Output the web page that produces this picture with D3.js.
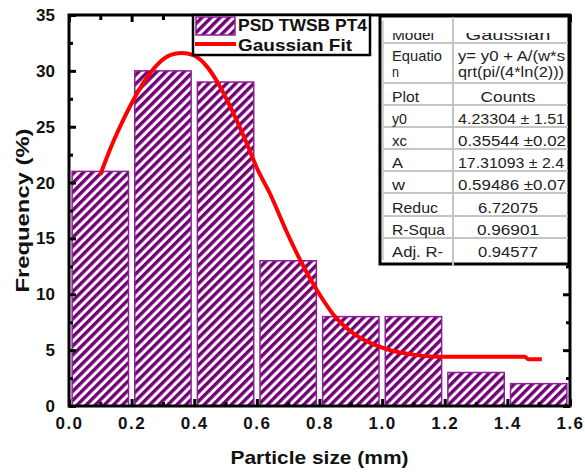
<!DOCTYPE html>
<html>
<head>
<meta charset="utf-8">
<script src="https://cdnjs.cloudflare.com/ajax/libs/d3/7.8.5/d3.min.js"></script>
<style>
  body { margin: 0; background: #fff; }
  svg { display: block; font-family: 'Liberation Sans', Arial, sans-serif; }
</style>
</head>
<body>
<svg id="chart" width="585" height="472"></svg>
<script>
// histogram bins (mm) and frequency (%)
const binStarts = [0, 0.2, 0.4, 0.6, 0.8, 1.0, 1.2, 1.4];
const frequencies = [21, 30, 29, 13, 8, 8, 3, 2];
const binWidth = 0.2;

// fitted curve
const fitX = [0.10, 0.13, 0.168, 0.20, 0.237, 0.28, 0.323, 0.36, 0.397, 0.44, 0.482, 0.525, 0.568, 0.60,
  0.642, 0.695, 0.743, 0.791, 0.844, 0.908, 0.983, 1.025, 1.10, 1.174, 1.281, 1.456, 1.467, 1.51];
const fitY = [20.7, 22.9, 25.3, 27.1, 28.9, 30.5, 31.4, 31.6, 31.4, 30.4, 28.6, 26.2, 23.5, 21.3,
  19.0, 15.6, 12.8, 10.4, 8.2, 6.5, 5.4, 5.0, 4.6, 4.41, 4.41, 4.41, 4.18, 4.18];

const xTicks = [0, 0.2, 0.4, 0.6, 0.8, 1.0, 1.2, 1.4, 1.6];
const xMinor = [0.1, 0.3, 0.5, 0.7, 0.9, 1.1, 1.3, 1.5];
const yTicks = [0, 5, 10, 15, 20, 25, 30, 35];
const yMinor = [2.5, 7.5, 12.5, 17.5, 22.5, 27.5, 32.5];

const legendLabels = ['PSD TWSB PT4', 'Gaussian Fit'];

// fit report table
const tableLabels = [['Model'], ['Equatio', 'n'], ['Plot'], ['y0'], ['xc'], ['A'], ['w'], ['Reduc'], ['R-Squa'], ['Adj. R-']];
const tableValues = [['Gaussian'], ['y= y0 + A/(w*s', 'qrt(pi/(4*ln(2)))'], ['Counts'], ['4.23304 \u00b1 1.51'],
  ['0.35544 \u00b10.02'], ['17.31093 \u00b1 2.4'], ['0.59486 \u00b10.07'], ['6.72075'], ['0.96901'], ['0.94577']];

// layout
const M = { left: 69, right: 570, top: 15, bottom: 406 };
const purple = '#800080';
const svg = d3.select('#chart');

const x = d3.scaleLinear().domain([0, 1.6]).range([M.left, M.right]);
const y = d3.scaleLinear().domain([0, 35]).range([M.bottom, M.top]);

const defs = svg.append('defs');
const pat = defs.append('pattern')
  .attr('id', 'hatch')
  .attr('patternUnits', 'userSpaceOnUse')
  .attr('width', 6.4).attr('height', 6.4)
  .attr('patternTransform', 'rotate(45)');
pat.append('rect').attr('width', 6.4).attr('height', 6.4).attr('fill', '#fff');
pat.append('rect').attr('width', 3.4).attr('height', 6.4).attr('fill', '#730078');

// bars
svg.append('g').selectAll('rect')
  .data(binStarts).join('rect')
  .attr('x', d => x(d + binWidth * 0.05))
  .attr('width', x(binWidth * 0.9) - x(0))
  .attr('y', (d, i) => y(frequencies[i]))
  .attr('height', (d, i) => y(0) - y(frequencies[i]))
  .attr('fill', 'url(#hatch)')
  .attr('stroke', '#8c2096')
  .attr('stroke-width', 1.5);

// fit line
const line = d3.line()
  .x(d => x(d[0]))
  .y(d => y(d[1]))
  .curve(d3.curveMonotoneX);
svg.append('path')
  .datum(fitX.map((v, i) => [v, fitY[i]]))
  .attr('d', line)
  .attr('fill', 'none')
  .attr('stroke', '#ff0000')
  .attr('stroke-width', 4);

// axes (ticks point inwards)
function styleAxis(g) {
  g.selectAll('.domain').remove();
  g.selectAll('.tick line').attr('stroke', '#000').attr('stroke-width', 3);
  g.selectAll('text')
    .attr('fill', '#111')
    .style('font-size', '17px')
    .style('font-weight', 'bold');
}

svg.append('g').attr('transform', `translate(0,${M.bottom})`)
  .call(d3.axisBottom(x).tickValues(xTicks).tickSize(-7).tickPadding(11).tickFormat(d3.format('.1f')))
  .call(styleAxis)
  .selectAll('text').style('letter-spacing', '1.5px');
svg.append('g').attr('transform', `translate(0,${M.bottom})`)
  .call(d3.axisBottom(x).tickValues(xMinor).tickSize(-4).tickFormat(''))
  .call(styleAxis);
svg.append('g').attr('transform', `translate(0,${M.top})`)
  .call(d3.axisTop(x).tickValues(xTicks).tickSize(-7).tickFormat(''))
  .call(styleAxis);
svg.append('g').attr('transform', `translate(0,${M.top})`)
  .call(d3.axisTop(x).tickValues(xMinor).tickSize(-5).tickFormat(''))
  .call(styleAxis);

svg.append('g').attr('transform', `translate(${M.left},0)`)
  .call(d3.axisLeft(y).tickValues(yTicks).tickSize(-7).tickPadding(14))
  .call(styleAxis);
svg.append('g').attr('transform', `translate(${M.left},0)`)
  .call(d3.axisLeft(y).tickValues(yMinor).tickSize(-4).tickFormat(''))
  .call(styleAxis);
svg.append('g').attr('transform', `translate(${M.right},0)`)
  .call(d3.axisRight(y).tickValues(yTicks).tickSize(-7).tickFormat(''))
  .call(styleAxis);
svg.append('g').attr('transform', `translate(${M.right},0)`)
  .call(d3.axisRight(y).tickValues(yMinor).tickSize(-4).tickFormat(''))
  .call(styleAxis);

// frame
svg.append('rect')
  .attr('x', M.left).attr('y', M.top)
  .attr('width', M.right - M.left).attr('height', M.bottom - M.top)
  .attr('fill', 'none').attr('stroke', '#000').attr('stroke-width', 3);

// axis titles
svg.append('text')
  .attr('x', (M.left + M.right) / 2).attr('y', 464)
  .attr('text-anchor', 'middle')
  .attr('textLength', 178).attr('lengthAdjust', 'spacingAndGlyphs')
  .style('font-size', '19px').style('font-weight', 'bold')
  .attr('fill', '#111')
  .text('Particle size (mm)');
svg.append('text')
  .attr('transform', `translate(29,${(M.top + M.bottom) / 2}) rotate(-90)`)
  .attr('text-anchor', 'middle')
  .attr('textLength', 164).attr('lengthAdjust', 'spacingAndGlyphs')
  .style('font-size', '19px').style('font-weight', 'bold')
  .attr('fill', '#111')
  .text('Frequency (%)');

// legend
const lg = svg.append('g');
lg.append('rect')
  .attr('x', 193).attr('y', 15).attr('width', 177).attr('height', 40)
  .attr('fill', '#fff').attr('stroke', '#000').attr('stroke-width', 2.5);
lg.append('rect')
  .attr('x', 196).attr('y', 17).attr('width', 39).attr('height', 18)
  .attr('fill', 'url(#hatch)').attr('stroke', '#8c2096').attr('stroke-width', 1.5);
lg.append('line')
  .attr('x1', 195).attr('x2', 236).attr('y1', 44).attr('y2', 44)
  .attr('stroke', '#ff0000').attr('stroke-width', 4);
lg.selectAll('text.lbl')
  .data(legendLabels).join('text')
  .attr('class', 'lbl')
  .attr('x', 238)
  .attr('y', (d, i) => 31 + i * 20)
  .attr('textLength', (d, i) => i === 0 ? 129 : 114)
  .attr('lengthAdjust', 'spacingAndGlyphs')
  .style('font-size', '17px').style('font-weight', 'bold')
  .attr('fill', '#111')
  .text(d => d);

// fit report table
const tb = svg.append('g');
const rowTops = [21, 43, 83, 105, 127, 149, 171, 193, 216, 238, 260];
const colX = [383, 453, 568];
const labelWidths = [[42], [50, 7], [27], [15], [15], [11], [13], [46], [53], [51]];
const valueWidths = [[85], [107, 106], [55], [107], [108], [106], [108], [60], [62], [60]];

tb.append('rect')
  .attr('x', 380).attr('y', 16).attr('width', 189).attr('height', 248)
  .attr('fill', '#fff').attr('stroke', '#000').attr('stroke-width', 3);

rowTops.slice(1, -1).forEach(t => {
  tb.append('line')
    .attr('x1', colX[0]).attr('x2', colX[2]).attr('y1', t).attr('y2', t)
    .attr('stroke', '#c4c4c4').attr('stroke-width', 2);
});
tb.append('line')
  .attr('x1', colX[1]).attr('x2', colX[1]).attr('y1', 17).attr('y2', 266)
  .attr('stroke', '#c4c4c4').attr('stroke-width', 2);
tb.append('line')
  .attr('x1', colX[0]).attr('x2', colX[0]).attr('y1', 21).attr('y2', 260)
  .attr('stroke', '#c4c4c4').attr('stroke-width', 1.5);

defs.append('clipPath').attr('id', 'topRow')
  .append('rect').attr('x', 380).attr('y', 33).attr('width', 190).attr('height', 240);

tableLabels.forEach((lines, r) => {
  const base = rowTops[r + 1] - 3 - (lines.length - 1) * 16;
  lines.forEach((s, k) => {
    tb.append('text')
      .attr('x', 392).attr('y', base + k * 16 - (lines.length > 1 ? 3 : 0))
      .attr('textLength', labelWidths[r][k]).attr('lengthAdjust', 'spacingAndGlyphs')
      .attr('clip-path', r === 0 ? 'url(#topRow)' : null)
      .style('font-size', '15px').attr('fill', '#222')
      .text(s);
  });
});
tableValues.forEach((lines, r) => {
  const base = rowTops[r + 1] - 3 - (lines.length - 1) * 16;
  const wide = /\u00b1|=|pi/.test(lines[0]);
  lines.forEach((s, k) => {
    tb.append('text')
      .attr('x', wide ? 458 : 508).attr('y', base + k * 16 - (lines.length > 1 ? 3 : 0))
      .attr('text-anchor', wide ? 'start' : 'middle')
      .attr('textLength', valueWidths[r][k]).attr('lengthAdjust', 'spacingAndGlyphs')
      .attr('clip-path', r === 0 ? 'url(#topRow)' : null)
      .style('font-size', '15px').attr('fill', '#222')
      .text(s);
  });
});
</script>
</body>
</html>
